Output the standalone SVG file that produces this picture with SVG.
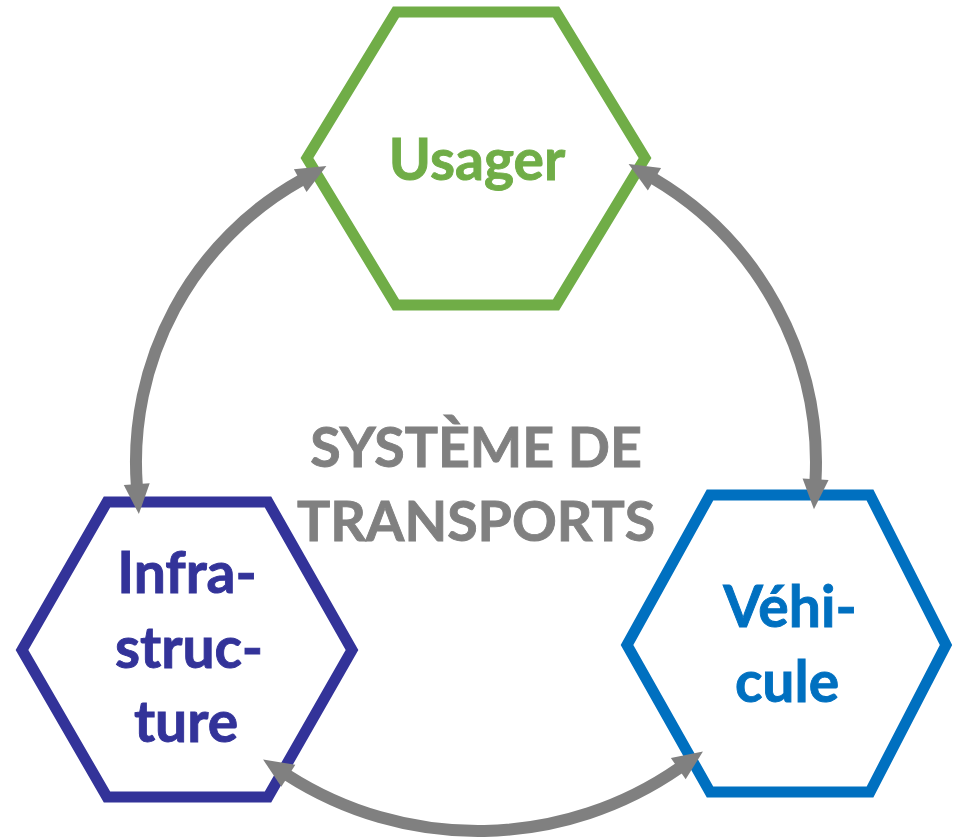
<svg xmlns="http://www.w3.org/2000/svg" width="955" height="838" viewBox="0 0 955 838">
  <style>
    .hex { fill: none; stroke-width: 11; stroke-linejoin: miter; }
    .lbl { font-family: Lato, "Open Sans", "Liberation Sans", sans-serif; font-weight: bold; font-size: 57px; text-anchor: middle; stroke-width: 0.9; }
    .title { font-size: 55.5px; }
    .link { fill: none; stroke: #808080; stroke-width: 12; marker-start: url(#tip); marker-end: url(#tip); }
  </style>
  <defs>
    <marker id="tip" markerUnits="userSpaceOnUse" viewBox="-2 -14 34 28" markerWidth="34" markerHeight="28" refX="1" refY="0" orient="auto-start-reverse">
      <path d="M0,-13 L30,0 L0,13 Z" fill="#808080"/>
    </marker>
  </defs>
  <rect width="955" height="838" fill="#ffffff"/>

  <!-- centre caption -->
  <g id="title" fill="#808080" stroke="#808080">
    <text class="lbl title" x="476" y="467">SYSTÈME DE</text>
    <text class="lbl title" x="476" y="541">TRANSPORTS</text>
  </g>

  <g id="usager">
    <polygon class="hex" stroke="#70AD47" points="396,12 556,12 645,158 556,305 396,305 307,158"/>
    <text class="lbl" fill="#70AD47" stroke="#70AD47" x="477" y="180">Usager</text>
  </g>

  <g id="infrastructure">
    <polygon class="hex" stroke="#333399" points="107,502 268,502 352,650 268,797 107,797 22,650"/>
    <g fill="#333399" stroke="#333399">
      <text class="lbl" x="187" y="593">Infra-</text>
      <text class="lbl" x="189" y="668">struc-</text>
      <text class="lbl" x="186" y="742">ture</text>
    </g>
  </g>

  <g id="vehicule">
    <polygon class="hex" stroke="#0070C0" points="710,495 870,495 946,645 870,792 710,792 627,645"/>
    <g fill="#0070C0" stroke="#0070C0">
      <text class="lbl" x="790" y="627">Véhi-</text>
      <text class="lbl" x="787" y="702">cule</text>
    </g>
  </g>

  <!-- two-way links between the three elements -->
  <g id="links">
    <path class="link" d="M301.1,180.2 A323,323 0 0 0 136.8,485.1"/>
    <path class="link" d="M653.6,178.7 A330,330 0 0 1 815.5,480.3"/>
    <path class="link" d="M287.5,775.2 A353,353 0 0 0 679.1,768.1"/>
  </g>
</svg>
